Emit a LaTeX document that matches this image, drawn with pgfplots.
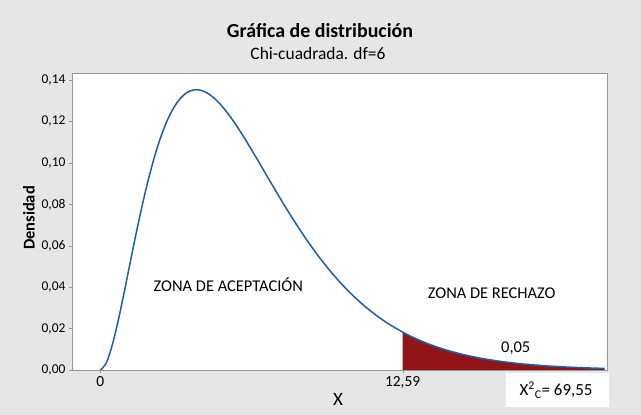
\documentclass[border=0pt]{standalone}
\usepackage{fontspec}
\setmainfont{Carlito}
\usepackage{pgfplots}
\pgfplotsset{compat=1.18}
\definecolor{bg}{RGB}{230,230,230}
\definecolor{curve}{RGB}{28,94,172}
\definecolor{tailc}{RGB}{145,20,22}
\definecolor{axgray}{RGB}{150,150,150}
\pgfplotstableread{
x y
0 0
0.25 0.003447
0.5 0.01217
0.75 0.02416
1 0.03791
1.25 0.05228
1.5 0.06643
1.75 0.07979
2 0.09197
2.25 0.10272
2.5 0.11191
2.75 0.11951
3 0.12551
3.25 0.12999
3.5 0.13304
3.75 0.13478
4 0.13534
4.25 0.13483
4.5 0.13341
4.75 0.13116
5 0.12826
5.25 0.12479
5.5 0.12086
5.75 0.11658
6 0.11202
6.5 0.10239
7 0.09248
7.5 0.08268
8 0.07326
8.5 0.06441
9 0.05624
9.5 0.04880
10 0.04211
10.5 0.03616
11 0.03091
11.5 0.02631
12 0.02231
12.59 0.018283
13 0.01588
13.5 0.01334
14 0.01117
14.5 0.00933
15 0.00778
15.5 0.006468
16 0.005367
16.5 0.004446
17 0.003675
17.5 0.003033
18 0.002499
18.5 0.002056
19 0.001689
19.5 0.001385
20 0.001135
20.5 0.000929
21 0.000759
}\curvedata
\pgfplotstableread{
x y
12.59 0.018283
13 0.01588
13.5 0.01334
14 0.01117
14.5 0.00933
15 0.00778
15.5 0.006468
16 0.005367
16.5 0.004446
17 0.003675
17.5 0.003033
18 0.002499
18.5 0.002056
19 0.001689
19.5 0.001385
20 0.001135
20.5 0.000929
21 0.000759
}\taildata
\begin{document}
\begin{tikzpicture}
\fill[bg] (0bp,0bp) rectangle (641bp,415bp);
\node[font=\fontsize{20}{22}\selectfont\bfseries] at (320bp,384bp) {Gráfica de distribución};
\node[font=\fontsize{17.5}{19}\selectfont] at (318bp,361bp) {Chi-cuadrada. df=6};
\node[font=\fontsize{16.5}{18}\selectfont\bfseries, rotate=90] at (29bp,197bp) {Densidad};
\node[font=\fontsize{19}{21}\selectfont] at (338bp,16bp) {X};
\fill[white] (506bp,8bp) rectangle (609bp,42bp);
\node[font=\fontsize{17}{19}\selectfont] at (556bp,25bp) {X\textsuperscript{2}\textsubscript{C}= 69,55};
\begin{axis}[
  at={(72bp,45bp)}, anchor=south west, scale only axis,
  width=535bp, height=297bp,
  xmin=-1.18, xmax=21.1, ymin=0, ymax=0.1434,
  axis background/.style={fill=white},
  axis line style={axgray},
  tick style={axgray},
  major tick length=3bp,
  tick align=outside,
  tick pos=left,
  xtick={0,12.59}, xticklabels={0,{12,59}},
  ytick={0,0.02,0.04,0.06,0.08,0.10,0.12,0.14},
  yticklabel style={font=\fontsize{13.5}{15}\selectfont, text=black, /pgf/number format/.cd, use comma, fixed, fixed zerofill, precision=2, assume math mode=true},
  xticklabel style={font=\fontsize{15.5}{17}\selectfont, text=black},
  scaled y ticks=false,
  clip=true,
]
\addplot[fill=tailc, draw=none, smooth] table[x=x,y=y] {\taildata} \closedcycle;
\addplot[curve, line width=1.5pt, smooth] table[x=x,y=y] {\curvedata};
\node[font=\fontsize{16.5}{18}\selectfont] at (axis cs:5.33,0.041) {ZONA DE ACEPTACIÓN};
\node[font=\fontsize{16.5}{18}\selectfont] at (axis cs:16.3,0.037) {ZONA DE RECHAZO};
\node[font=\fontsize{16.5}{18}\selectfont] at (axis cs:17.3,0.0106) {0,05};
\end{axis}
\end{tikzpicture}
\end{document}
